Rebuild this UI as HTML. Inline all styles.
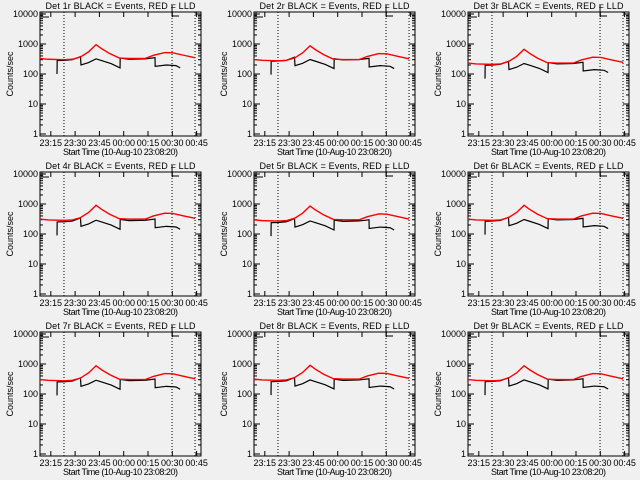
<!DOCTYPE html>
<html><head><meta charset="utf-8"><style>
html,body{margin:0;padding:0;background:#f0f0f0;}
svg{display:block;}
text{font-family:"Liberation Sans",sans-serif;font-size:9px;fill:#000;}
</style></head><body>
<svg id="chart" width="640" height="480" viewBox="0 0 640 480" xmlns="http://www.w3.org/2000/svg"></svg>
<script>
// time in minutes since start (23:08:20)
const redTimes = [0,5,15,20,25,30,34.6,38,43,49,55,65,70,77,82,88,95.7];
const redValues = [330,310,300,310,370,550,950,700,480,340,330,330,420,520,510,430,350];
const blackTimes = [10.5,10.6,15,20,25,25.3,30,34.6,38,44,49.4,49.5,55,65,71,71.1,78,84,86.5];
const blackValues = [100,280,285,300,380,200,240,320,280,220,160,340,310,320,350,180,200,190,160];
const panelNames = ["Det 1r","Det 2r","Det 3r","Det 4r","Det 5r","Det 6r","Det 7r","Det 8r","Det 9r"];
const redScale = [1,0.92,0.7,0.95,0.9,0.95,0.92,0.95,0.92];
const blackScale = [1,0.95,0.7,0.9,0.85,0.95,0.9,0.92,0.92];
const tickLabels = ["23:15","23:30","23:45","00:00","00:15","00:30","00:45"];
const tickMinutes = [6.67,21.67,36.67,51.67,66.67,81.67,96.67];
const dottedMinutes = [14.8,81.5,95.7];
const yTicks = [1,10,100,1000,10000];

const NS="http://www.w3.org/2000/svg";
const svg=document.getElementById('chart');
function el(tag,attrs,parent){const e=document.createElementNS(NS,tag);for(const k in attrs)e.setAttribute(k,attrs[k]);(parent||svg).appendChild(e);return e;}

for(let p=0;p<9;p++){
  const ox=[0,214,428][p%3], oy=[0,160,320][Math.floor(p/3)];
  const L=ox+40,R=ox+201,T=oy+12,B=oy+136;
  const xs=m=>L+m*1.62;
  const ys=v=>oy+134-30*Math.log10(v);
  const g=el('g',{});
  
  
  const box=el('rect',{x:L,y:T,width:R-L,height:B-T,fill:'none',stroke:'#000','stroke-width':1},g);
  
  
  const title=el('text',{x:(L+R)/2,y:oy+9,'text-anchor':'middle','textLength':150},g);
  title.textContent=panelNames[p]+" BLACK = Events, RED = LLD";
  
  
  yTicks.forEach(v=>{
    const y=ys(v);
    el('line',{x1:L,x2:L+6,y1:y,y2:y,stroke:'#000'},g);
    el('line',{x1:R,x2:R-6,y1:y,y2:y,stroke:'#000'},g);
    const t=el('text',{x:L-2,y:y+3,'text-anchor':'end'},g);
    t.textContent=String(v);
    
    
    if(v<10000){for(let k=2;k<10;k++){const yy=ys(v*k);el('line',{x1:L,x2:L+3,y1:yy,y2:yy,stroke:'#000'},g);el('line',{x1:R,x2:R-3,y1:yy,y2:yy,stroke:'#000'},g);}}
  });
  const yl=el('text',{x:0,y:0,'text-anchor':'middle',transform:`translate(${ox+13},${oy+74}) rotate(-90)`},g);
  yl.textContent="Counts/sec";
  
  
  tickLabels.forEach((lab,i)=>{
    const x=xs(tickMinutes[i]);
    el('line',{x1:x,x2:x,y1:B,y2:B-5,stroke:'#000'},g);
    el('line',{x1:x,x2:x,y1:T,y2:T+5,stroke:'#000'},g);
    const t=el('text',{x:x,y:oy+146,'text-anchor':'middle','font-size':'8.5'},g);
    t.textContent=lab;
    
    
  });
  const xl=el('text',{x:(L+R)/2,y:oy+155,'text-anchor':'middle','textLength':115},g);
  xl.textContent="Start Time (10-Aug-10 23:08:20)";
  
  
  dottedMinutes.forEach(m=>{
    const x=xs(m);
    const d=el('line',{x1:x,x2:x,y1:T,y2:B,stroke:'#000','stroke-dasharray':'1,2'},g);
    
    
  });
  el('polyline',{points:`${L+2},${T} ${L+2},${T+5} ${L+9},${T+5}`,fill:'none',stroke:'#000'},g);
  const bx=xs(dottedMinutes[1]);
  el('polyline',{points:`${bx},${oy+5} ${bx},${oy+16} ${bx+7},${oy+16}`,fill:'none',stroke:'#000'},g);
  const bp=blackTimes.map((t,i)=>xs(t)+','+ys(blackValues[i]*blackScale[p])).join(' ');
  const bl=el('polyline',{points:bp,fill:'none',stroke:'#000','stroke-width':1.2},g);
  
  
  const rp=redTimes.map((t,i)=>xs(t)+','+ys(redValues[i]*redScale[p])).join(' ');
  const rl=el('polyline',{points:rp,fill:'none',stroke:'#ff0000','stroke-width':1.4},g);
  
  
}
</script>
</body></html>
